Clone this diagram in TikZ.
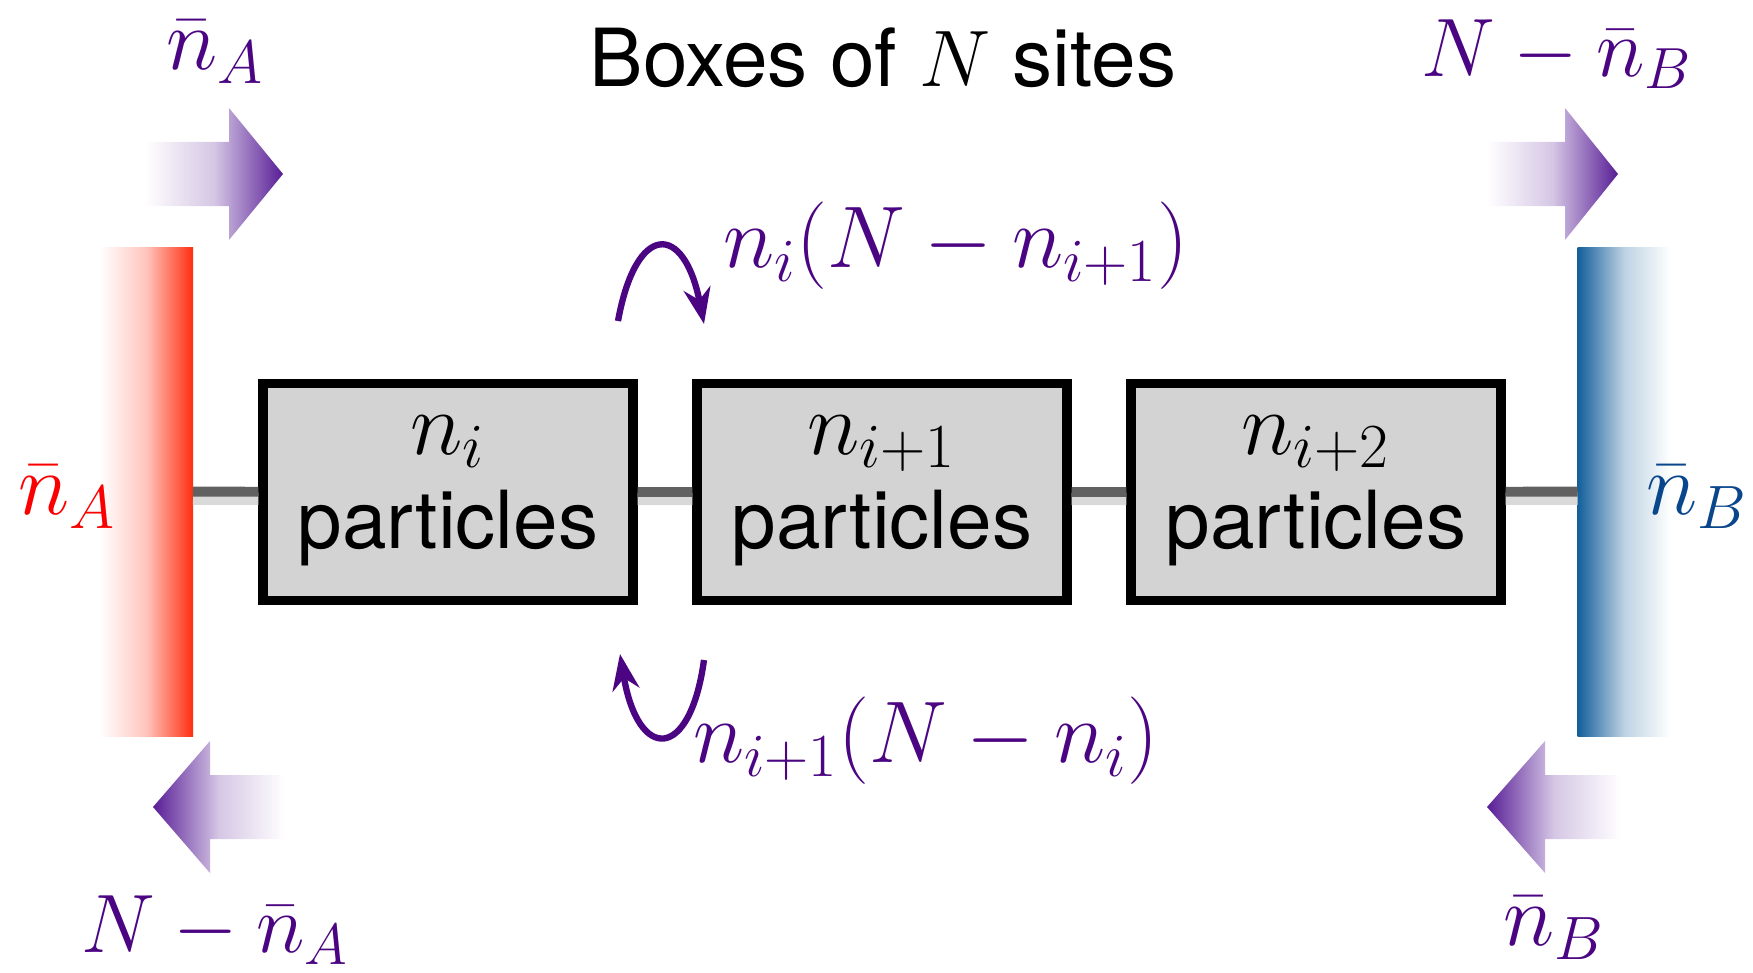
\RequirePackage{fix-cm}
\documentclass[tikz,border=0pt]{standalone}
\usepackage{fontspec}
\setmainfont{TeX Gyre Heros}
\usepackage{amsmath}
\usetikzlibrary{arrows.meta}

\definecolor{ratepurple}{RGB}{75,5,130}
\definecolor{flowpurple}{RGB}{88,30,150}
\definecolor{hotred}{RGB}{255,45,15}
\definecolor{hotlabel}{RGB}{250,0,0}
\definecolor{coldblue}{RGB}{20,95,155}
\definecolor{coldlabel}{RGB}{10,70,140}
\definecolor{sitegray}{RGB}{211,211,211}

\tikzset{
  every node/.style={font=\fontsize{22.8}{27}\selectfont},
  bigmath/.style={font=\fontsize{24.9}{30}\selectfont, inner sep=0pt},
  site/.style={draw=black, line width=2.6pt, fill=sitegray,
    minimum width=3.70cm, minimum height=2.17cm, inner sep=0pt},
  reservoir/.style={minimum width=0.93cm, minimum height=4.89cm,
    inner sep=0pt, outer sep=0pt},
  chain/.style={line width=2.8pt, draw=black!62},
  chainshadow/.style={line width=3.5pt, draw=black!15},
  hop/.style={line width=1.8pt, ratepurple,
    -{Stealth[length=0.36cm,width=0.27cm]}},
  rate/.style={bigmath, text=ratepurple},
  bathrate/.style={rate, font=\fontsize{23.6}{28}\selectfont},
  count/.style={bigmath, font=\fontsize{25.5}{30}\selectfont, anchor=base},
}

\begin{document}
\begin{tikzpicture}
	\useasboundingbox (0,0) rectangle (17.53,9.72);

	% reservoirs
	\node[reservoir, left color=white, right color=hotred, middle color=hotred!28] (resA) at (1.465,4.805) {};
	\node[reservoir, left color=coldblue, right color=white, middle color=coldblue!28] (resB) at (16.24,4.805) {};

	% boxes
	\node[site] (box1) at (4.48,4.80) {};
	\node[site] (box2) at (8.82,4.80) {};
	\node[site] (box3) at (13.16,4.80) {};
	\node[count] at ([yshift=0.38cm]box1.center) {$n_i$};
	\node[count] at ([yshift=0.38cm]box2.center) {$n_{i+1}$};
	\node[count] at ([yshift=0.38cm]box3.center) {$n_{i+2}$};
	\foreach \b in {box1,box2,box3}
		\node[anchor=base] at ([yshift=-0.56cm]\b.center) {particles};

	% chain
	\draw[chainshadow, transform canvas={yshift=-2pt}] (resA) -- (box1) -- (box2) -- (box3) -- (resB);
	\draw[chain] (resA) -- (box1) -- (box2) -- (box3) -- (resB);

	\node[anchor=base] (title) at (8.83,8.85) {Boxes of $N$ sites};

	% flows at the ends
	\shade[left color=white, right color=flowpurple, middle color=flowpurple!25]
		(1.45,7.66) -- (2.29,7.66) -- (2.29,7.32) -- (2.83,7.98) -- (2.29,8.64) -- (2.29,8.30) -- (1.45,8.30) -- cycle;
	\shade[left color=white, right color=flowpurple, middle color=flowpurple!25]
		(14.87,7.66) -- (15.65,7.66) -- (15.65,7.32) -- (16.18,7.98) -- (15.65,8.64) -- (15.65,8.30) -- (14.87,8.30) -- cycle;
	\shade[left color=flowpurple, right color=white, middle color=flowpurple!25]
		(2.85,1.33) -- (2.10,1.33) -- (2.10,0.99) -- (1.53,1.65) -- (2.10,2.31) -- (2.10,1.97) -- (2.85,1.97) -- cycle;
	\shade[left color=flowpurple, right color=white, middle color=flowpurple!25]
		(16.21,1.33) -- (15.45,1.33) -- (15.45,0.99) -- (14.87,1.65) -- (15.45,2.31) -- (15.45,1.97) -- (16.21,1.97) -- cycle;

	\node[rate] (inA) at (2.15,9.2) {$\bar n_A$};
	\node[bathrate] (outB) at (15.57,9.18) {$N-\bar n_B$};
	\node[bathrate] (outA) at (2.15,0.42) {$N-\bar n_A$};
	\node[rate] (inB) at (15.54,0.44) {$\bar n_B$};
	\node[bigmath, text=hotlabel] (labA) at (0.67,4.75) {$\bar n_A$};
	\node[bigmath, text=coldlabel] (labB) at (16.97,4.75) {$\bar n_B$};

	% hopping between neighbouring boxes
	\coordinate (fwdstart) at (6.18,6.51);
	\coordinate (fwdend) at (7.04,6.48);
	\coordinate (bwdstart) at (7.04,3.12);
	\coordinate (bwdend) at (6.20,3.18);
	\draw[hop] (fwdstart) .. controls (6.36,7.5) and (6.84,7.5) .. (fwdend);
	\draw[hop] (bwdstart) .. controls (6.90,2.1) and (6.38,2.1) .. (bwdend);
	\node[rate] (fwd) at (9.56,7.26) {$n_i(N-n_{i+1})$};
	\node[rate] (bwd) at (9.26,2.31) {$n_{i+1}(N-n_i)$};
\end{tikzpicture}
\end{document}
